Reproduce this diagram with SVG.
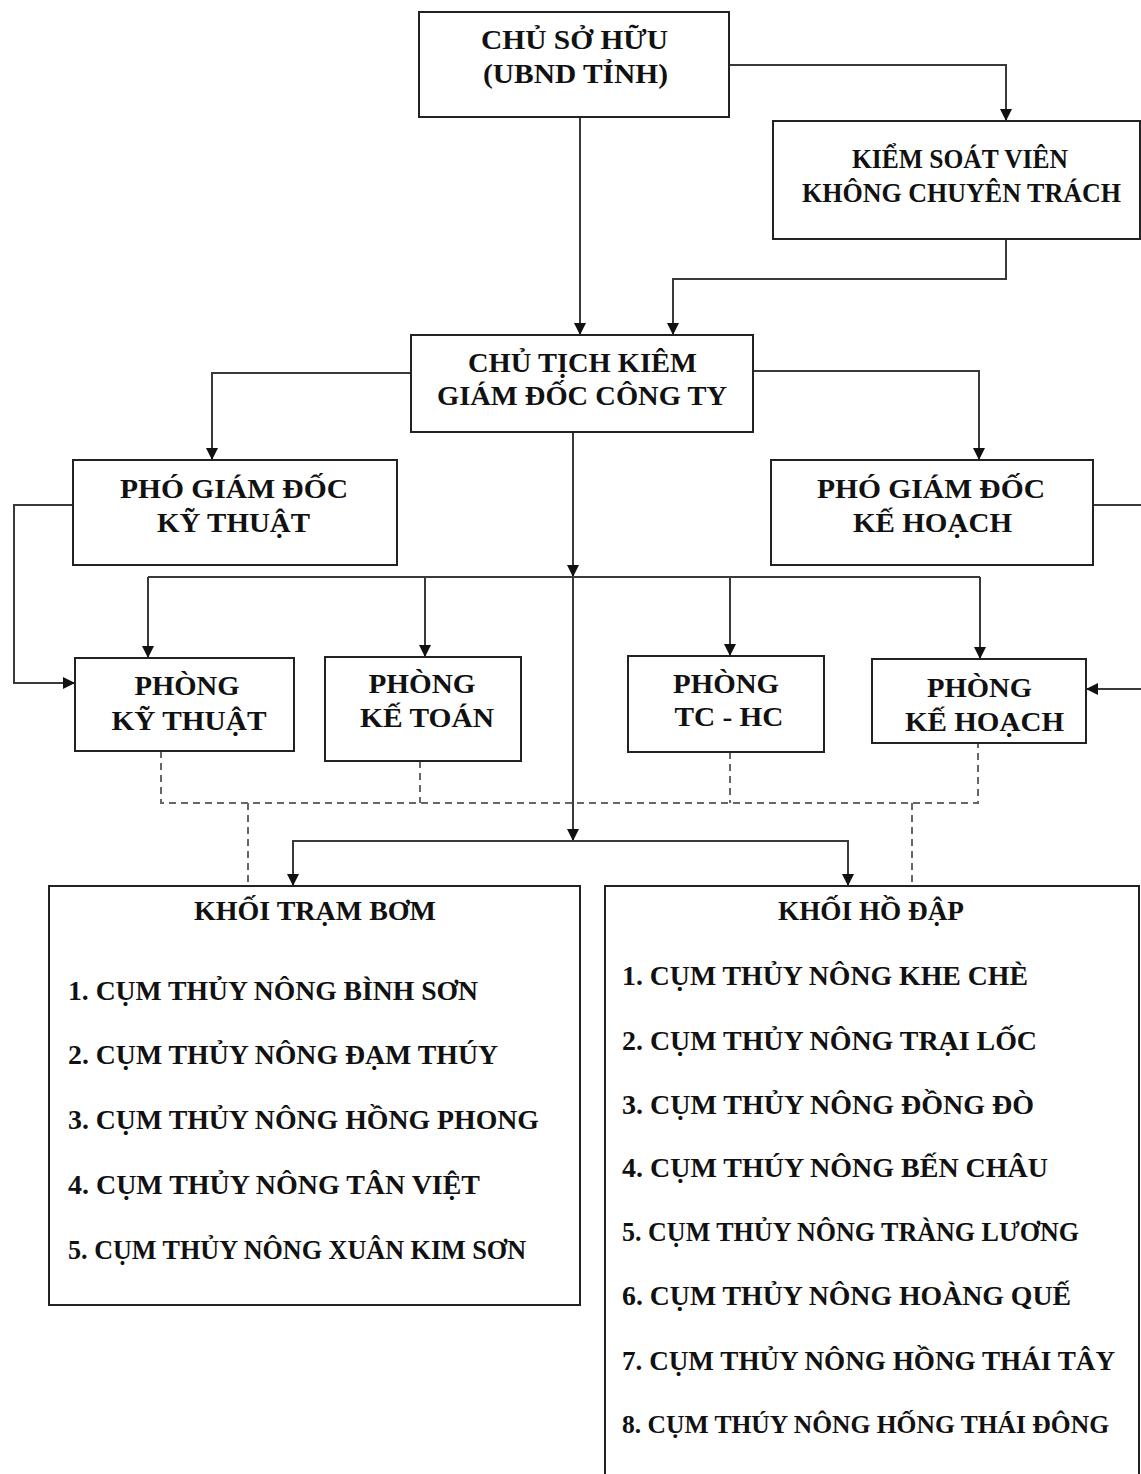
<svg xmlns="http://www.w3.org/2000/svg" width="1141" height="1474" viewBox="0 0 1141 1474">
<style>
.box{fill:#fff;stroke:#222;stroke-width:2}
.t{font-family:"Liberation Serif","Times New Roman",serif;font-weight:bold;fill:#111;font-size:27px;text-anchor:middle}
.li{font-family:"Liberation Serif","Times New Roman",serif;font-weight:bold;fill:#111;font-size:28px}
.sm{font-size:26px}
.c{fill:none;stroke:#3a3a3a;stroke-width:2}
.d{fill:none;stroke:#666;stroke-width:2;stroke-dasharray:7 5}
</style>
<defs>
<marker id="ah" viewBox="0 0 12 14" refX="12" refY="7" markerWidth="12" markerHeight="14" markerUnits="userSpaceOnUse" orient="auto">
<path d="M0,1 L12,7 L0,13 Z" fill="#111"/>
</marker>
</defs>
<rect width="1141" height="1474" fill="#fff"/>

<g id="connectors">
<path class="c" d="M580,117 V335" marker-end="url(#ah)"/>
<path class="c" d="M729,65 H1006 V121" marker-end="url(#ah)"/>
<path class="c" d="M1006,239 V279 H673 V335" marker-end="url(#ah)"/>
<path class="c" d="M411,373 H212 V460" marker-end="url(#ah)"/>
<path class="c" d="M753,371 H979 V460" marker-end="url(#ah)"/>
<path class="c" d="M573,432 V577" marker-end="url(#ah)"/>
<path class="c" d="M573,577 V841" marker-end="url(#ah)"/>
<path class="c" d="M148,577 H980"/>
<path class="c" d="M148,577 V658" marker-end="url(#ah)"/>
<path class="c" d="M425,577 V657" marker-end="url(#ah)"/>
<path class="c" d="M730,577 V656" marker-end="url(#ah)"/>
<path class="c" d="M980,577 V659" marker-end="url(#ah)"/>
<path class="c" d="M573,841 H293 V886" marker-end="url(#ah)"/>
<path class="c" d="M573,841 H848 V886" marker-end="url(#ah)"/>
<path class="c" d="M73,505 H14 V683 H75" marker-end="url(#ah)"/>
<path class="c" d="M1093,505 H1150 V689 H1086" marker-end="url(#ah)"/>
<path class="d" d="M161,751 V803 H978 V743"/>
<path class="d" d="M420,761 V803"/>
<path class="d" d="M730,752 V803"/>
<path class="d" d="M248,803 V886"/>
<path class="d" d="M912,803 V886"/>
</g>

<g id="chu-so-huu">
<rect class="box" x="419" y="12" width="310" height="105"/>
<text class="t" x="574.5" y="49" textLength="187" lengthAdjust="spacingAndGlyphs">CHỦ SỞ HỮU</text>
<text class="t" x="575.5" y="83" textLength="185" lengthAdjust="spacingAndGlyphs">(UBND TỈNH)</text>
</g>

<g id="kiem-soat-vien">
<rect class="box" x="773" y="121" width="367" height="118"/>
<text class="t" x="960" y="168" textLength="216" lengthAdjust="spacingAndGlyphs">KIỂM SOÁT VIÊN</text>
<text class="t" x="961.5" y="202" textLength="319" lengthAdjust="spacingAndGlyphs">KHÔNG CHUYÊN TRÁCH</text>
</g>

<g id="chu-tich">
<rect class="box" x="411" y="335" width="342" height="97"/>
<text class="t" x="582.5" y="372" textLength="229" lengthAdjust="spacingAndGlyphs">CHỦ TỊCH KIÊM</text>
<text class="t" x="582" y="405" textLength="290" lengthAdjust="spacingAndGlyphs">GIÁM ĐỐC CÔNG TY</text>
</g>

<g id="pgd-ky-thuat">
<rect class="box" x="73" y="460" width="324" height="105"/>
<text class="t" x="234" y="498" textLength="228" lengthAdjust="spacingAndGlyphs">PHÓ GIÁM ĐỐC</text>
<text class="t" x="233.5" y="532" textLength="153" lengthAdjust="spacingAndGlyphs">KỸ THUẬT</text>
</g>

<g id="pgd-ke-hoach">
<rect class="box" x="771" y="460" width="322" height="105"/>
<text class="t" x="931" y="498" textLength="228" lengthAdjust="spacingAndGlyphs">PHÓ GIÁM ĐỐC</text>
<text class="t" x="932.5" y="532" textLength="159" lengthAdjust="spacingAndGlyphs">KẾ HOẠCH</text>
</g>

<g id="phong-ky-thuat">
<rect class="box" x="75" y="658" width="219" height="93"/>
<text class="t" x="187" y="695" textLength="105" lengthAdjust="spacingAndGlyphs">PHÒNG</text>
<text class="t" x="189" y="730" textLength="155" lengthAdjust="spacingAndGlyphs">KỸ THUẬT</text>
</g>

<g id="phong-ke-toan">
<rect class="box" x="325" y="657" width="196" height="104"/>
<text class="t" x="422" y="693" textLength="107" lengthAdjust="spacingAndGlyphs">PHÒNG</text>
<text class="t" x="427" y="727" textLength="134" lengthAdjust="spacingAndGlyphs">KẾ TOÁN</text>
</g>

<g id="phong-tc-hc">
<rect class="box" x="628" y="656" width="196" height="96"/>
<text class="t" x="726" y="693" textLength="106" lengthAdjust="spacingAndGlyphs">PHÒNG</text>
<text class="t" x="729" y="726" textLength="109" lengthAdjust="spacingAndGlyphs">TC - HC</text>
</g>

<g id="phong-ke-hoach">
<rect class="box" x="872" y="659" width="214" height="84"/>
<text class="t" x="979.5" y="697" textLength="105" lengthAdjust="spacingAndGlyphs">PHÒNG</text>
<text class="t" x="984.5" y="731" textLength="159" lengthAdjust="spacingAndGlyphs">KẾ HOẠCH</text>
</g>

<g id="khoi-tram-bom">
<rect class="box" x="49" y="886" width="531" height="419"/>
<text class="t" x="315" y="920" textLength="242" lengthAdjust="spacingAndGlyphs">KHỐI TRẠM BƠM</text>
<text class="li" x="68" y="1000" textLength="410" lengthAdjust="spacingAndGlyphs">1. CỤM THỦY NÔNG BÌNH SƠN</text>
<text class="li" x="68" y="1064" textLength="430" lengthAdjust="spacingAndGlyphs">2. CỤM THỦY NÔNG ĐẠM THÚY</text>
<text class="li" x="68" y="1129" textLength="471" lengthAdjust="spacingAndGlyphs">3. CỤM THỦY NÔNG HỒNG PHONG</text>
<text class="li" x="68" y="1194" textLength="412" lengthAdjust="spacingAndGlyphs">4. CỤM THỦY NÔNG TÂN VIỆT</text>
<text class="li" x="68" y="1259" textLength="458" lengthAdjust="spacingAndGlyphs">5. CỤM THỦY NÔNG XUÂN KIM SƠN</text>
</g>

<g id="khoi-ho-dap">
<path class="box" d="M605,1474 V886 H1139 V1474"/>
<text class="t" x="871" y="920" textLength="186" lengthAdjust="spacingAndGlyphs">KHỐI HỒ ĐẬP</text>
<text class="li" x="622" y="985" textLength="406" lengthAdjust="spacingAndGlyphs">1. CỤM THỦY NÔNG KHE CHÈ</text>
<text class="li" x="622" y="1050" textLength="415" lengthAdjust="spacingAndGlyphs">2. CỤM THỦY NÔNG TRẠI LỐC</text>
<text class="li" x="622" y="1114" textLength="412" lengthAdjust="spacingAndGlyphs">3. CỤM THỦY NÔNG ĐỒNG ĐÒ</text>
<text class="li" x="622" y="1177" textLength="426" lengthAdjust="spacingAndGlyphs">4. CỤM THÚY NÔNG BẾN CHÂU</text>
<text class="li" x="622" y="1241" textLength="457" lengthAdjust="spacingAndGlyphs">5. CỤM THỦY NÔNG TRÀNG LƯƠNG</text>
<text class="li" x="622" y="1305" textLength="449" lengthAdjust="spacingAndGlyphs">6. CỤM THỦY NÔNG HOÀNG QUẾ</text>
<text class="li" x="622" y="1370" textLength="493" lengthAdjust="spacingAndGlyphs">7. CỤM THỦY NÔNG HỒNG THÁI TÂY</text>
<text class="li sm" x="622" y="1433" textLength="487" lengthAdjust="spacingAndGlyphs">8. CỤM THÚY NÔNG HỐNG THÁI ĐÔNG</text>
</g>
</svg>
